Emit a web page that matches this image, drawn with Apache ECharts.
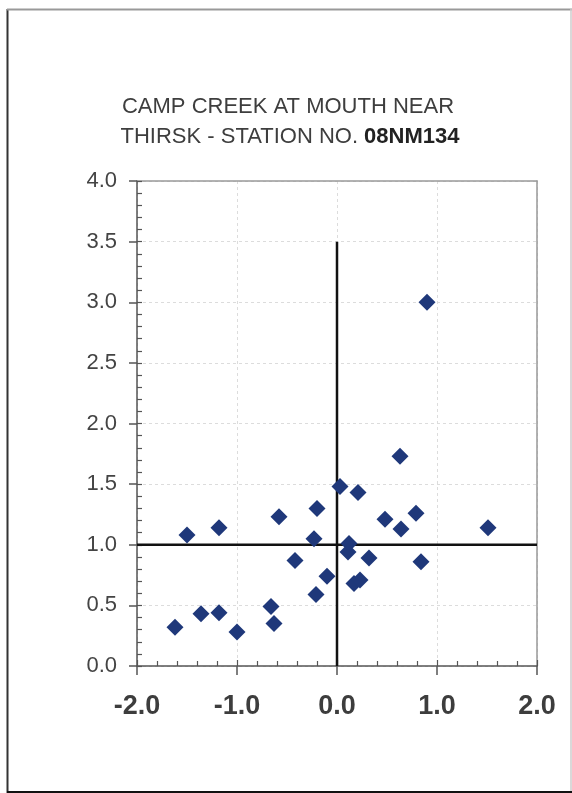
<!DOCTYPE html>
<html><head><meta charset="utf-8">
<script src="https://cdn.jsdelivr.net/npm/echarts@6/dist/echarts.min.js"></script>
<style>html,body{margin:0;padding:0;background:#fff}#c{width:572px;height:793px}</style>
</head><body><div id="c"></div>
<script>
const titleLine1 = 'CAMP CREEK AT MOUTH NEAR';
const titleLine2a = 'THIRSK - STATION NO. ';
const titleLine2b = '08NM134';
const xValues = [-1.62,-1.50,-1.36,-1.18,-1.18,-1.00,-0.66,-0.63,-0.58,-0.42,-0.20,-0.23,-0.21,-0.10,0.03,0.21,0.48,0.79,0.64,1.51,0.63,0.12,0.11,0.32,0.84,0.17,0.23,0.90];
const yValues = [0.32,1.08,0.43,1.14,0.44,0.28,0.49,0.35,1.23,0.87,1.30,1.05,0.59,0.74,1.48,1.43,1.21,1.26,1.13,1.14,1.73,1.01,0.94,0.89,0.86,0.68,0.71,3.00];
const vLineX = [0, 0];
const vLineY = [0, 3.5];
const hLineX = [-2, 2];
const hLineY = [1, 1];

const chart = echarts.init(document.getElementById('c'), null, {renderer:'canvas'});
const pts = xValues.map((x,i)=>[x,yValues[i]]);
const gridDash = {color:'#dcdcdc', width:1, type:[3,3]};
const tFont = {fontFamily:'Liberation Sans', fontSize:22, fontWeight:'normal', color:'#3e3e3e'};
chart.setOption({
  animation:false,
  backgroundColor:'#fff',
  title:[{
    text: titleLine1, left: 288, top: 96, textAlign:'center', padding:0,
    textStyle: tFont
  },{
    text: '{n|' + titleLine2a + '}{b|' + titleLine2b + '}',
    left: 290, top: 126, textAlign:'center', padding:0,
    textStyle:{fontFamily:'Liberation Sans', fontSize:22, fontWeight:'normal', color:'#3e3e3e',
      rich:{n:{fontFamily:'Liberation Sans', fontSize:22, fontWeight:'normal', color:'#3e3e3e'},
            b:{fontFamily:'Liberation Sans', fontSize:22, fontWeight:'bold', color:'#222'}}}
  }],
  grid:{left:137, right:35, top:181, bottom:127},
  xAxis:[{
    type:'value', min:-2, max:2, interval:1, position:'bottom',
    axisLine:{show:true, onZero:false, lineStyle:{color:'#555', width:1.5}},
    axisTick:{show:true, inside:false, length:9, lineStyle:{color:'#555', width:1.5}},
    minorTick:{show:false},
    splitLine:{show:true, lineStyle:gridDash},
    axisLabel:{fontFamily:'Liberation Sans', fontSize:27, fontWeight:'bold', color:'#3d3d3d', margin:27,
      formatter:v=>v.toFixed(1)}
  },{
    type:'value', min:-2, max:2, interval:1, position:'bottom', offset:0,
    axisLine:{show:false, onZero:false},
    axisTick:{show:true, inside:true, length:6, lineStyle:{color:'#555', width:1.2}},
    minorTick:{show:true, splitNumber:5, length:5, lineStyle:{color:'#555', width:1.2}},
    splitLine:{show:false}, axisLabel:{show:false}
  },{
    type:'value', min:-2, max:2, interval:1, position:'top',
    axisLine:{show:true, onZero:false, lineStyle:{color:'#999', width:1.5}},
    axisTick:{show:false}, splitLine:{show:false}, axisLabel:{show:false}
  }],
  yAxis:[{
    type:'value', min:0, max:4, interval:0.5, position:'left',
    axisLine:{show:true, onZero:false, lineStyle:{color:'#555', width:1.5}},
    axisTick:{show:true, inside:false, length:8, lineStyle:{color:'#555', width:1.5}},
    splitLine:{show:true, lineStyle:gridDash},
    axisLabel:{fontFamily:'Liberation Sans', fontSize:22, color:'#444', margin:20,
      formatter:v=>v.toFixed(1)}
  },{
    type:'value', min:0, max:4, interval:0.5, position:'left', offset:0,
    axisLine:{show:false, onZero:false},
    axisTick:{show:true, inside:true, length:5, lineStyle:{color:'#555', width:1.2}},
    minorTick:{show:true, splitNumber:5, length:5, lineStyle:{color:'#555', width:1.2}},
    splitLine:{show:false}, axisLabel:{show:false}
  },{
    type:'value', min:0, max:4, interval:0.5, position:'right',
    axisLine:{show:true, onZero:false, lineStyle:{color:'#999', width:1.5}},
    axisTick:{show:false}, splitLine:{show:false}, axisLabel:{show:false}
  }],
  series:[
    {type:'line', data:vLineX.map((x,i)=>[x,vLineY[i]]), symbol:'none', lineStyle:{color:'#111', width:2.5}, z:3},
    {type:'line', data:hLineX.map((x,i)=>[x,hLineY[i]]), symbol:'none', lineStyle:{color:'#111', width:2.5}, z:3},
    {type:'scatter', data:pts, symbol:'diamond', symbolSize:17, itemStyle:{color:'#1f387a', opacity:1}, z:5}
  ],
  graphic:[
    {type:'line', shape:{x1:7.5, y1:9, x2:7.5, y2:793}, style:{stroke:'#333', lineWidth:2}},
    {type:'line', shape:{x1:7, y1:9.5, x2:572, y2:9.5}, style:{stroke:'#999', lineWidth:2}},
    {type:'line', shape:{x1:571, y1:9, x2:571, y2:793}, style:{stroke:'#ccc', lineWidth:1.5}},
    {type:'line', shape:{x1:7, y1:792, x2:572, y2:792}, style:{stroke:'#111', lineWidth:2}}
  ]
});
</script></body></html>
